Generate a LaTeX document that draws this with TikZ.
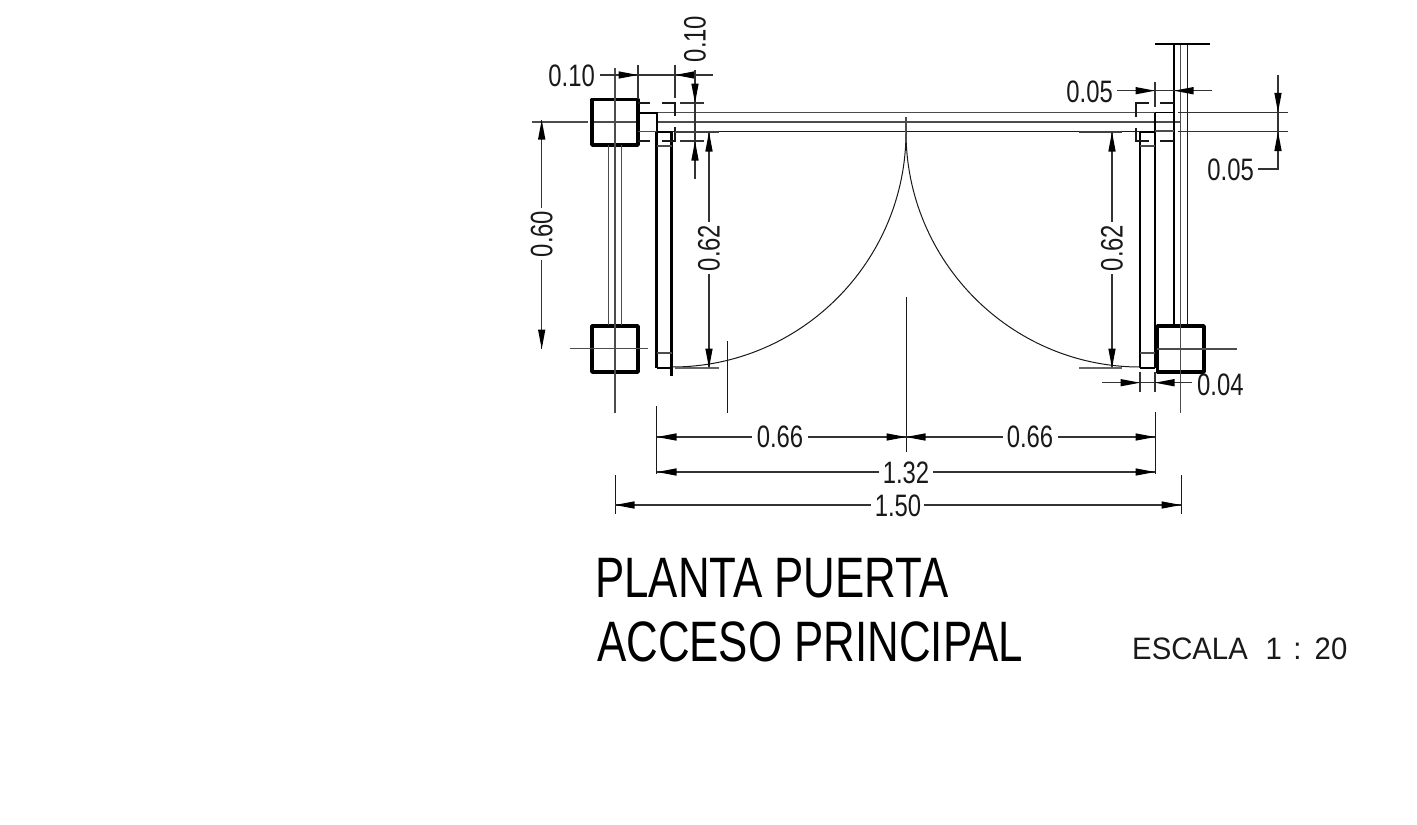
\documentclass[tikz,border=0pt]{standalone}
\usepackage{graphicx}
\usepackage{fontspec}
\setmainfont{Liberation Sans}
\usetikzlibrary{arrows.meta}
\tikzset{
  x=1pt,y=-1pt,
  thin line/.style={line width=1.2pt,draw=black!70},
  fine line/.style={line width=1pt,draw=black!90},
  mid line/.style={line width=1.8pt,draw=black},
  thick wall/.style={line width=2.6pt,draw=black},
  post/.style={line width=3.6pt,draw=black,line join=round},
  dash line/.style={line width=1.1pt,draw=black!90},
  dim/.style={line width=1.1pt,draw=black!80},
  dimtip/.style={fill=black,draw=none},
  dimtext/.style={font=\fontsize{31}{31}\selectfont,inner sep=0pt,text=black!90},
  titletext/.style={font=\fontsize{57}{57}\selectfont,inner sep=0pt,anchor=west,text=black},
  scaletext/.style={font=\fontsize{31}{31}\selectfont,inner sep=0pt,anchor=west,text=black!90},
}
\newcommand{\tipR}[2]{\fill[dimtip] (#1,#2) -- ++(-19.5,-3.7) -- ++(0,7.4) -- cycle;}
\newcommand{\tipL}[2]{\fill[dimtip] (#1,#2) -- ++(19.5,-3.7) -- ++(0,7.4) -- cycle;}
\newcommand{\tipD}[2]{\fill[dimtip] (#1,#2) -- ++(-3.7,-19.5) -- ++(7.4,0) -- cycle;}
\newcommand{\tipU}[2]{\fill[dimtip] (#1,#2) -- ++(-3.7,19.5) -- ++(7.4,0) -- cycle;}
\newcommand{\dimlab}[1]{\scalebox{0.77}[1]{#1}}
\newcommand{\titlelab}[1]{\scalebox{0.769}[1]{#1}}
\newcommand{\scalelab}[1]{\scalebox{0.945}[1]{#1}}
\begin{document}
\begin{tikzpicture}
\useasboundingbox (0,0) rectangle (1417,825);
\fill[white] (0,0) rectangle (1417,825);

% wall lines
\draw[thin line] (656,112.5) -- (1155,112.5);
\draw[thin line] (532,122) -- (588,122);
\draw[thin line] (592,122) -- (638,122);
\draw[thin line] (656,122) -- (1180,122);
\draw[fine line] (656,131.6) -- (1155,131.6);

% left posts
\draw[post] (592,99.5) rectangle (638,145);
\draw[post] (592,326) rectangle (638,372);
\draw[thin line] (615,68) -- (615,413);
\draw[thin line] (608.5,145) -- (608.5,325);
\draw[thin line] (621.5,145) -- (621.5,325);
\draw[thin line] (570,348.7) -- (648,348.7);

% left jamb and leaf
\draw[mid line] (638,113) -- (656.7,113) -- (656.7,131.6);
\draw[thin line] (638,131.6) -- (656.7,131.6);
\draw[thick wall] (656.7,131.6) -- (656.7,368);
\draw[mid line] (656.7,368) -- (671.5,368);
\draw[thick wall] (671.5,131.6) -- (671.5,376);
\draw[mid line] (656.7,131.6) -- (671.5,131.6);
\draw[thin line] (656.7,146) -- (671.5,146);
\draw[thin line] (656.7,353) -- (671.5,353);

% dashed reference box, left
\draw[dash line] (638,103) -- (650,103);
\draw[dash line] (662,103) -- (675,103) -- (675,116);
\draw[dash line] (675,127) -- (675,141) -- (662,141);
\draw[dash line] (650,141) -- (638,141);

% right posts and frame
\draw[post] (1157.5,326) rectangle (1204,372);
\draw[mid line] (1174,44) -- (1174,325);
\draw[thin line] (1180.7,44) -- (1180.7,413);
\draw[fine line] (1187.3,44) -- (1187.3,325);
\draw[mid line] (1155,44.3) -- (1210,44.3);
\draw[thin line] (1157,349) -- (1237,349);

% right jamb and leaf
\draw[thick wall] (1155,112.5) -- (1155,368);
\draw[mid line] (1155,112.5) -- (1174,112.5);
\draw[thin line] (1155,131) -- (1174,131);
\draw[thick wall] (1140,131.6) -- (1140,368);
\draw[mid line] (1140,368) -- (1155,368);
\draw[mid line] (1140,131.6) -- (1155,131.6);
\draw[thin line] (1140,146) -- (1155,146);
\draw[thin line] (1140,353) -- (1155,353);

% dashed reference box, right
\draw[dash line] (1174,103) -- (1160,103);
\draw[dash line] (1149,103) -- (1136,103) -- (1136,117);
\draw[dash line] (1136,128) -- (1136,141) -- (1149,141);
\draw[dash line] (1160,141) -- (1174,141);

% swings
\draw[thin line] (906,117) -- (906,132);
\draw[fine line] (672,367) .. controls (801.2,367) and (906,261.2) .. (906,132);
\draw[fine line] (1140,367) .. controls (1010.8,367) and (906,261.2) .. (906,132);

% top left 0.10
\draw[dim] (600,75) -- (713,75);
\draw[dim] (638,65) -- (638,99);
\draw[dim] (675,65) -- (675,98);
\tipR{638}{75}\tipL{675}{75}
\node[dimtext,anchor=east] (t1) at (595,76) {\dimlab{0.10}};

% top vertical 0.10
\draw[dim] (695,70) -- (695,179);
\draw[dim] (680,103) -- (704,103);
\draw[dim] (680,141) -- (704,141);
\tipD{695}{103}\tipU{695}{141}
\node[dimtext,rotate=90] (t2) at (695,39) {\dimlab{0.10}};

% left 0.60
\draw[dim] (541.7,120) -- (541.7,208);
\draw[dim] (541.7,260) -- (541.7,349);
\tipU{541.7}{120}\tipD{541.7}{349}
\node[dimtext,rotate=90] (t3) at (541.7,234) {\dimlab{0.60}};

% left 0.62
\draw[dim] (709,132) -- (709,222);
\draw[dim] (709,274) -- (709,368);
\draw[mid line,draw=black!75] (675,131.8) -- (719,131.8);
\draw[mid line,draw=black!60] (675,367.7) -- (719,367.7);
\tipU{709}{132}\tipD{709}{368}
\node[dimtext,rotate=90] (t4) at (709,248) {\dimlab{0.62}};

% right 0.62
\draw[dim] (1112,132) -- (1112,222);
\draw[dim] (1112,274) -- (1112,368);
\draw[mid line,draw=black!75] (1079,132) -- (1122,132);
\draw[mid line,draw=black!60] (1079,367.7) -- (1122,367.7);
\tipU{1112}{132}\tipD{1112}{368}
\node[dimtext,rotate=90] (t5) at (1112,248) {\dimlab{0.62}};

% top right 0.05
\draw[dim] (1117,90.7) -- (1212,90.7);
\draw[dim] (1155,82) -- (1155,107);
\tipR{1155}{90.7}\tipL{1174}{90.7}
\node[dimtext,anchor=east] (t6) at (1113,91.5) {\dimlab{0.05}};

% right 0.05
\draw[dim] (1178,112.3) -- (1288,112.3);
\draw[dim] (1178,131.6) -- (1288,131.6);
\draw[dim] (1278,75) -- (1278,169) -- (1258,169);
\tipD{1278}{112.3}\tipU{1278}{131.6}
\node[dimtext,anchor=east] (t7) at (1254,169.5) {\dimlab{0.05}};

% 0.04
\draw[dim] (1102,382.7) -- (1192,382.7);
\draw[dim] (1140,372) -- (1140,392);
\draw[dim] (1155,372) -- (1155,392);
\tipR{1140}{382.7}\tipL{1155}{382.7}
\node[dimtext,anchor=west] (t8) at (1197,385) {\dimlab{0.04}};

% bottom dimensions
\draw[fine line] (727,341) -- (727,413);
\draw[fine line] (906,297) -- (906,452);
\draw[fine line] (656.7,406) -- (656.7,474);
\draw[fine line] (1155,412) -- (1155,474);
\draw[fine line] (615,475) -- (615,514);
\draw[fine line] (1181,475) -- (1181,514);

\draw[dim] (657,437) -- (752,437);
\draw[dim] (808,437) -- (1003,437);
\draw[dim] (1058,437) -- (1155,437);
\tipL{657}{437}\tipR{906}{437}\tipL{906}{437}\tipR{1155}{437}
\node[dimtext] (t9) at (780,437) {\dimlab{0.66}};
\node[dimtext] (t10) at (1030,437) {\dimlab{0.66}};

\draw[dim] (657,472) -- (879,472);
\draw[dim] (933,472) -- (1155,472);
\tipL{657}{472}\tipR{1155}{472}
\node[dimtext] (t11) at (906,473) {\dimlab{1.32}};

\draw[dim] (615,505) -- (871,505);
\draw[dim] (924,505) -- (1181,505);
\tipL{615}{505}\tipR{1181}{505}
\node[dimtext] (t12) at (898,506) {\dimlab{1.50}};

% titles
\node[titletext] (title1) at (595,578) {\titlelab{PLANTA PUERTA}};
\node[titletext] (title2) at (597,642) {\titlelab{ACCESO PRINCIPAL}};
\node[scaletext] (scale) at (1132,648.5) {\scalelab{ESCALA\hspace{19pt}1\hspace{12pt}:\hspace{14pt}20}};
\end{tikzpicture}
\end{document}
